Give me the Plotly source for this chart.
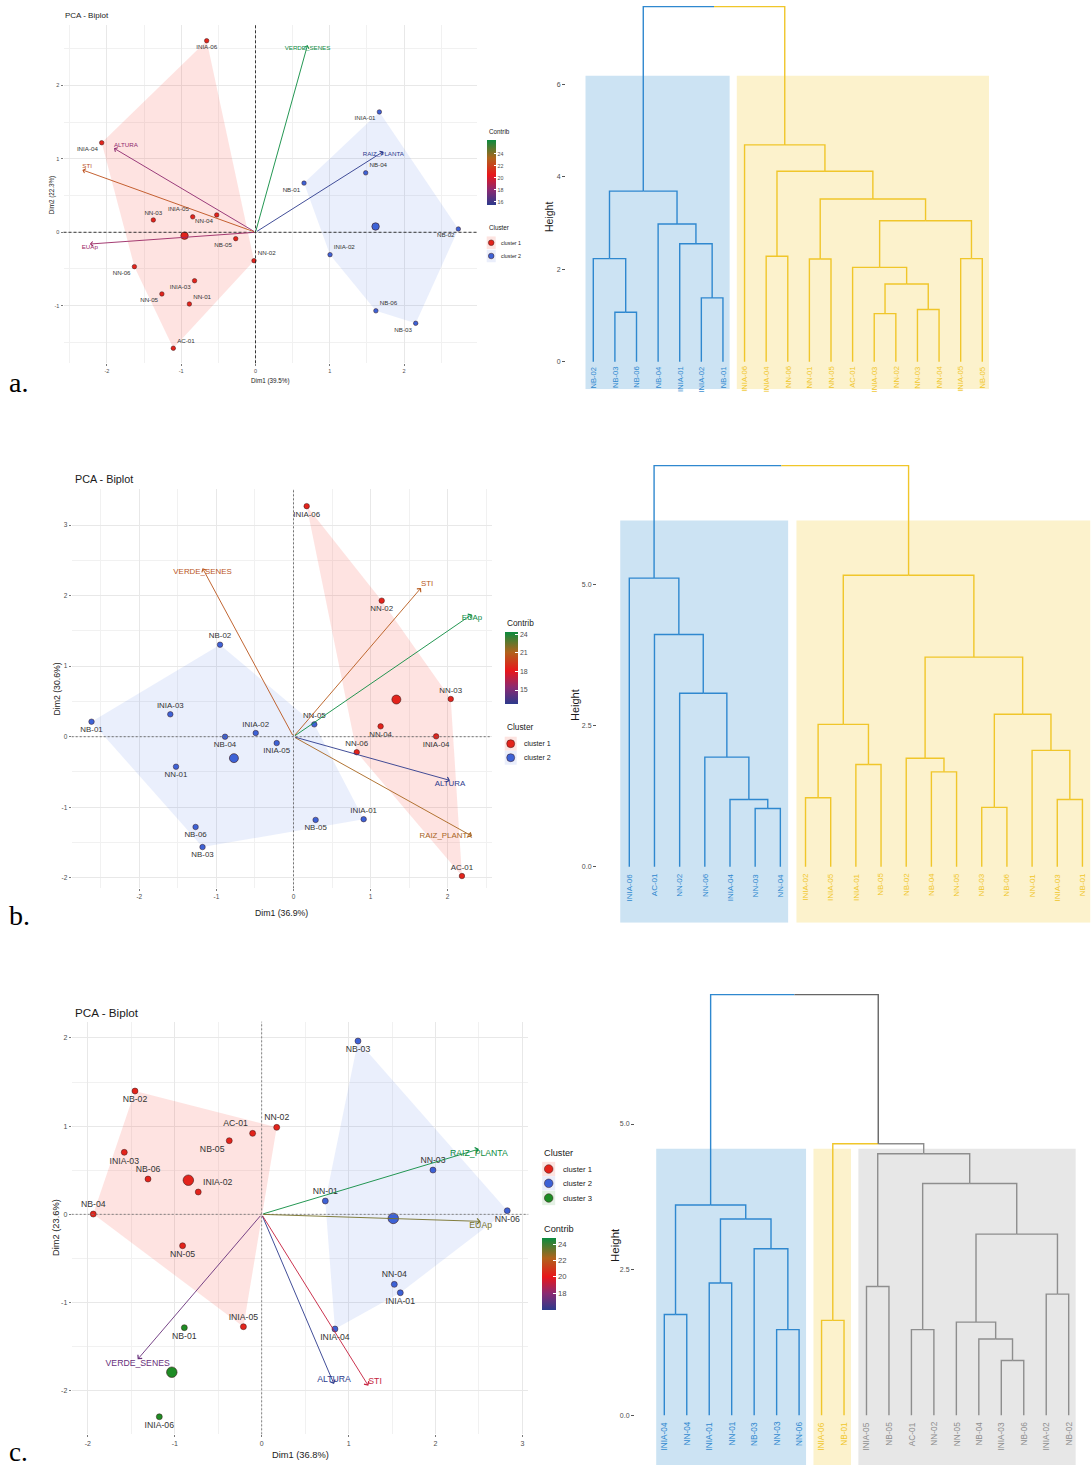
import numpy as np
import plotly.graph_objects as go
from plotly.colors import sample_colorscale

W, H = 1092, 1472
SANS = "Liberation Sans, Arial, sans-serif"
SERIF = "Liberation Serif, Times New Roman, serif"
TICK_GREY = "#4d4d4d"

# ------------------------------------------------------------------ data
# a. PCA individuals (Dim1, Dim2) and k-means cluster
a_ind = ["INIA-06", "INIA-04", "NN-03", "INIA-05", "NN-04", "NB-05", "NN-02",
         "NN-06", "INIA-03", "NN-05", "NN-01", "AC-01",
         "INIA-01", "NB-04", "NB-01", "NB-02", "INIA-02", "NB-06", "NB-03"]
a_dim1 = [-0.657, -2.07, -1.375, -0.845, -0.522, -0.266, -0.02, -1.63, -0.82, -1.26, -0.89, -1.106,
          1.667, 1.483, 0.653, 2.73, 1.003, 1.62, 2.156]
a_dim2 = [2.61, 1.22, 0.168, 0.21, 0.236, -0.087, -0.387, -0.468, -0.66, -0.84, -0.977, -1.58,
          1.64, 0.81, 0.67, 0.045, -0.305, -1.07, -1.24]
a_cluster = [1, 1, 1, 1, 1, 1, 1, 1, 1, 1, 1, 1, 2, 2, 2, 2, 2, 2, 2]
a_var = ["VERDE_SENES", "RAIZ_PLANTA", "ALTURA", "STI", "EUAp"]
a_var_dim1 = [0.70, 1.72, -1.905, -2.33, -2.23]
a_var_dim2 = [2.55, 1.10, 1.145, 0.85, -0.16]
a_contrib = [26.3, 15.5, 18.1, 22.6, 18.4]

# b. PCA
b_ind = ["INIA-06", "NN-02", "NN-03", "NN-04", "INIA-04", "NN-06", "AC-01",
         "NB-01", "INIA-03", "NB-02", "NB-04", "INIA-02", "INIA-05", "NN-01",
         "NB-06", "NB-03", "NN-05", "NB-05", "INIA-01"]
b_dim1 = [0.171, 1.144, 2.04, 1.13, 1.85, 0.82, 2.185,
          -2.62, -1.598, -0.953, -0.888, -0.49, -0.218, -1.524, -1.27, -1.18, 0.27, 0.287, 0.91]
b_dim2 = [3.27, 1.93, 0.535, 0.147, 0.005, -0.22, -1.976,
          0.213, 0.318, 1.305, 0.0, 0.052, -0.09, -0.425, -1.28, -1.565, 0.175, -1.18, -1.17]
b_cluster = [1, 1, 1, 1, 1, 1, 1, 2, 2, 2, 2, 2, 2, 2, 2, 2, 2, 2, 2]
b_var = ["VERDE_SENES", "STI", "EUAp", "ALTURA", "RAIZ_PLANTA"]
b_var_dim1 = [-1.18, 1.654, 2.315, 2.03, 2.315]
b_var_dim2 = [2.39, 2.11, 1.735, -0.62, -1.41]
b_contrib = [20.6, 20.8, 24.4, 12.8, 21.3]

# c. PCA
c_ind = ["NB-02", "INIA-03", "NB-06", "NB-04", "INIA-02", "NB-05", "AC-01", "NN-02", "NN-05", "INIA-05",
         "NB-03", "NN-03", "NN-01", "NN-06", "NN-04", "INIA-01", "INIA-04",
         "NB-01", "INIA-06"]
c_dim1 = [-1.458, -1.581, -1.308, -1.938, -0.73, -0.373, -0.104, 0.173, -0.91, -0.21,
          1.108, 1.971, 0.732, 2.826, 1.526, 1.595, 0.843,
          -0.89, -1.178]
c_dim2 = [1.398, 0.703, 0.40, 0.003, 0.253, 0.835, 0.918, 0.986, -0.356, -1.274,
          1.965, 0.502, 0.151, 0.041, -0.794, -0.889, -1.30,
          -1.285, -2.295]
c_cluster = [1, 1, 1, 1, 1, 1, 1, 1, 1, 1, 2, 2, 2, 2, 2, 2, 2, 3, 3]
c_var = ["VERDE_SENES", "RAIZ_PLANTA", "EUAp", "ALTURA", "STI"]
c_var_dim1 = [-1.427, 2.50, 2.52, 0.832, 1.227]
c_var_dim2 = [-1.644, 0.74, -0.08, -1.924, -1.943]
c_contrib = [17.2, 24.7, 23.1, 15.9, 19.2]

# Hierarchical clustering: leaf order, group of each leaf, merge table
# (negative = leaf position, positive = earlier merge row) and merge heights
a_leaves = ["NB-02", "NB-03", "NB-06", "NB-04", "INIA-01", "INIA-02", "NB-01",
            "INIA-06", "INIA-04", "NN-06", "NN-01", "NN-05", "AC-01", "INIA-03",
            "NN-02", "NN-03", "NN-04", "INIA-05", "NB-05"]
a_groups = [1, 1, 1, 1, 1, 1, 1, 2, 2, 2, 2, 2, 2, 2, 2, 2, 2, 2, 2]
a_merge = [(-14, -15), (-2, -3), (-16, -17), (-6, -7), (1, 3), (-13, 5), (-11, -12), (-1, 2),
           (-18, -19), (-9, -10), (-5, 4), (-4, 11), (6, 9), (7, 13), (8, 12), (10, 14),
           (-8, 16), (15, 17)]
a_height = [1.04, 1.07, 1.13, 1.38, 1.68, 2.04, 2.22, 2.23, 2.23, 2.28, 2.55, 2.98, 3.05,
            3.52, 3.69, 4.12, 4.69, 7.68]

b_leaves = ["INIA-06", "AC-01", "NN-02", "NN-06", "INIA-04", "NN-03", "NN-04",
            "INIA-02", "INIA-05", "INIA-01", "NB-05", "NB-02", "NB-04", "NN-05",
            "NB-03", "NB-06", "NN-01", "INIA-03", "NB-01"]
b_groups = [1, 1, 1, 1, 1, 1, 1, 2, 2, 2, 2, 2, 2, 2, 2, 2, 2, 2, 2]
b_merge = [(-6, -7), (-15, -16), (-5, 1), (-18, -19), (-8, -9), (-13, -14), (-10, -11),
           (-12, 6), (-4, 3), (-17, 4), (5, 7), (2, 10), (-3, 9), (8, 12), (-2, 13),
           (-1, 15), (11, 14), (16, 17)]
b_height = [1.03, 1.05, 1.19, 1.19, 1.22, 1.68, 1.81, 1.92, 1.94, 2.06, 2.52, 2.70, 3.07,
            3.71, 4.11, 5.11, 5.16, 7.10]

c_leaves = ["INIA-04", "NN-04", "INIA-01", "NN-01", "NB-03", "NN-03", "NN-06",
            "INIA-06", "NB-01",
            "INIA-05", "NB-05", "AC-01", "NN-02", "NN-05", "NB-04", "INIA-03",
            "NB-06", "INIA-02", "NB-02"]
c_groups = [1, 1, 1, 1, 1, 1, 1, 2, 2, 3, 3, 3, 3, 3, 3, 3, 3, 3, 3]
c_merge = [(-16, -17), (-15, 1), (-6, -7), (-12, -13), (-14, 2), (-8, -9), (-1, -2),
           (-18, -19), (-10, -11), (-3, -4), (-5, 3), (5, 8), (10, 11), (7, 13), (4, 12),
           (9, 15), (6, 16), (14, 17)]
c_height = [0.94, 1.31, 1.47, 1.47, 1.60, 1.63, 1.73, 2.08, 2.21, 2.27, 2.86, 3.11, 3.37,
            3.61, 3.98, 4.49, 4.66, 7.22]

# ------------------------------------------------------------------ styles
CONTRIB_SCALE = [[0.0, "#2c3a8c"], [0.23, "#8a2a72"], [0.46, "#e8161b"],
                 [0.72, "#b0631c"], [1.0, "#0b8b3f"]]
PT_COL = {1: "#e3231b", 2: "#3d62d6", 3: "#1e8c25"}
HULL_FILL = {1: "rgba(245,60,40,0.14)", 2: "rgba(65,105,225,0.11)", 3: "rgba(34,139,34,0.12)"}
KEY_BG = {1: "#fde4e1", 2: "#eaeefb", 3: "#e4f1e4"}
DEND_LINE = {0: "#666666", 1: "#2f88cf", 2: "#f0c62a", 3: "#8e8e8e"}
DEND_RECT = {1: "#cce3f3", 2: "#fcf2cc", 3: "#e7e7e7"}

a_pos = ["bottom center", "bottom left", "top center", "top left", "bottom left", "bottom left",
         "top right", "bottom left", "bottom left", "bottom left", "top right", "top right",
         "bottom left", "top right", "bottom left", "bottom left", "top right", "top right",
         "bottom left"]
a_var_pos = ["bottom center", "bottom center", "top right", "top right", "bottom center"]
b_pos = ["bottom center", "bottom center", "top center", "bottom center", "bottom center",
         "top center", "top center", "bottom center", "top center", "top center",
         "bottom center", "top center", "bottom center", "bottom center", "bottom center",
         "bottom center", "top center", "bottom center", "top center"]
b_var_pos = ["bottom center", "top right", "bottom center", "bottom center", "middle left"]
c_pos = ["bottom center", "bottom center", "top center", "top center", "top right",
         "bottom left", "top left", "top center", "bottom center", "top center",
         "bottom center", "top center", "top center", "bottom center", "top center",
         "bottom center", "bottom center", "bottom center", "bottom center"]
c_var_pos = ["bottom center", "bottom center", "bottom center", "top center", "top right"]


def px(x, y):
    """Pixel position on the page -> paper coordinates."""
    return x / W, 1 - y / H


def axis_names(k):
    return ("x" if k == 1 else f"x{k}"), ("y" if k == 1 else f"y{k}")


def convex_hull(xs, ys):
    pts = sorted(set(zip(xs, ys)))
    if len(pts) < 3:
        return pts

    def cross(o, a, b):
        return (a[0] - o[0]) * (b[1] - o[1]) - (a[1] - o[1]) * (b[0] - o[0])

    lower, upper = [], []
    for p in pts:
        while len(lower) >= 2 and cross(lower[-2], lower[-1], p) <= 0:
            lower.pop()
        lower.append(p)
    for p in reversed(pts):
        while len(upper) >= 2 and cross(upper[-2], upper[-1], p) <= 0:
            upper.pop()
        upper.append(p)
    return lower[:-1] + upper[:-1]


fig = go.Figure()
annotations = []
shapes = []


def text_ann(x, y, text, size, color="#1a1a1a", xanchor="left", yanchor="middle",
             angle=0, family=SANS):
    xp, yp = px(x, y)
    annotations.append(dict(x=xp, y=yp, xref="paper", yref="paper", text=text,
                            showarrow=False, xanchor=xanchor, yanchor=yanchor,
                            textangle=angle, font=dict(size=size, color=color, family=family)))


def add_biplot(k, ind, d1, d2, cl, pos, var, vd1, vd2, vpos, contrib,
               fs, msize, csize, head, dash_col, dash_pat):
    xa, ya = axis_names(k)
    ind = np.array(ind)
    d1 = np.array(d1)
    d2 = np.array(d2)
    cl = np.array(cl)
    pos = np.array(pos)
    groups = sorted(set(cl.tolist()))

    for g in groups:
        m = cl == g
        hull = convex_hull(d1[m].tolist(), d2[m].tolist())
        if len(hull) >= 3:
            fig.add_trace(go.Scatter(
                x=[q[0] for q in hull] + [hull[0][0]], y=[q[1] for q in hull] + [hull[0][1]],
                xaxis=xa, yaxis=ya, mode="lines", fill="toself", fillcolor=HULL_FILL[g],
                line=dict(width=0), hoverinfo="skip"))

    # dashed reference lines through the origin
    shapes.append(dict(type="line", xref=xa, yref=f"{ya} domain", x0=0, x1=0, y0=0, y1=1,
                       line=dict(color=dash_col, width=0.9, dash=dash_pat), layer="above"))
    shapes.append(dict(type="line", xref=f"{xa} domain", yref=ya, x0=0, x1=1, y0=0, y1=0,
                       line=dict(color=dash_col, width=0.9, dash=dash_pat), layer="above"))

    # variable arrows coloured by contribution
    cmin, cmax = min(contrib), max(contrib)
    cols = sample_colorscale(CONTRIB_SCALE, [(v - cmin) / (cmax - cmin) for v in contrib])
    for vx, vy, col in zip(vd1, vd2, cols):
        annotations.append(dict(x=vx, y=vy, ax=0, ay=0, xref=xa, yref=ya, axref=xa, ayref=ya,
                                text="", showarrow=True, arrowhead=4, arrowsize=head,
                                arrowwidth=0.9, arrowcolor=col, standoff=0))
    fig.add_trace(go.Scatter(x=vd1, y=vd2, xaxis=xa, yaxis=ya, mode="text", text=var,
                             textposition=vpos, hoverinfo="skip",
                             textfont=dict(size=fs, color=cols, family=SANS)))

    # individuals and cluster centres
    for g in groups:
        m = cl == g
        fig.add_trace(go.Scatter(
            x=d1[m], y=d2[m], xaxis=xa, yaxis=ya, mode="markers+text", text=ind[m].tolist(),
            textposition=pos[m].tolist(), hoverinfo="text",
            textfont=dict(size=fs, color="#333333", family=SANS),
            marker=dict(size=msize, color=PT_COL[g], line=dict(color="#3a1a1a", width=0.5))))
        fig.add_trace(go.Scatter(
            x=[d1[m].mean()], y=[d2[m].mean()], xaxis=xa, yaxis=ya, mode="markers",
            hoverinfo="skip",
            marker=dict(size=csize, color=PT_COL[g], line=dict(color="#3a1a1a", width=0.6))))

    # carrier for the contribution colour bar
    fig.add_trace(go.Scatter(
        x=vd1, y=vd2, xaxis=xa, yaxis=ya, mode="markers", hoverinfo="skip",
        marker=dict(size=2, opacity=0, color=contrib,
                    coloraxis="coloraxis" if k == 1 else f"coloraxis{k}")))


def add_dendrogram(k, leaves, groups, merge, height, label_fs, label_shift):
    xa, ya = axis_names(k)
    node = {}

    def child(c):
        if c < 0:
            return float(-c), 0.0, groups[-c - 1]
        return node[c]

    segs = {}
    for i, (l, r) in enumerate(merge, start=1):
        xl, hl, gl = child(l)
        xr, hr, gr = child(r)
        h = height[i - 1]
        xm = (xl + xr) / 2
        segs.setdefault(gl, ([], []))
        segs[gl][0].extend([xl, xl, xm, None])
        segs[gl][1].extend([hl, h, h, None])
        segs.setdefault(gr, ([], []))
        segs[gr][0].extend([xm, xr, xr, None])
        segs[gr][1].extend([h, h, hr, None])
        node[i] = (xm, h, gl if gl == gr else 0)

    for g, (xs, ys) in segs.items():
        fig.add_trace(go.Scatter(x=xs, y=ys, xaxis=xa, yaxis=ya, mode="lines",
                                 line=dict(color=DEND_LINE[g], width=1.4), hoverinfo="skip"))

    # cluster rectangles, cut halfway between the last retained and next merge
    n_groups = len(set(groups))
    hs = sorted(height)
    cut = (hs[-n_groups] + hs[-n_groups + 1]) / 2
    for g in sorted(set(groups)):
        idx = [i + 1 for i, gg in enumerate(groups) if gg == g]
        shapes.append(dict(type="rect", xref=xa, yref=ya, x0=min(idx) - 0.36,
                           x1=max(idx) + 0.31, y0=None, y1=cut, line=dict(width=0),
                           fillcolor=DEND_RECT[g], layer="below"))

    for i, (lab, g) in enumerate(zip(leaves, groups), start=1):
        annotations.append(dict(x=i, y=0, xref=xa, yref=ya, text=lab, showarrow=False,
                                textangle=-90, xanchor="center", yanchor="top",
                                yshift=label_shift,
                                font=dict(size=label_fs, color=DEND_LINE[g], family=SANS)))


# ------------------------------------------------------------------ panels
add_biplot(1, a_ind, a_dim1, a_dim2, a_cluster, a_pos, a_var, a_var_dim1, a_var_dim2,
           a_var_pos, a_contrib, fs=6.2, msize=4.5, csize=7.5, head=1.0,
           dash_col="#222222", dash_pat="3px,2px")
add_biplot(2, b_ind, b_dim1, b_dim2, b_cluster, b_pos, b_var, b_var_dim1, b_var_dim2,
           b_var_pos, b_contrib, fs=7.9, msize=5.5, csize=9, head=1.1,
           dash_col="#666666", dash_pat="2px,2px")
add_biplot(3, c_ind, c_dim1, c_dim2, c_cluster, c_pos, c_var, c_var_dim1, c_var_dim2,
           c_var_pos, c_contrib, fs=8.7, msize=6, csize=10.5, head=1.2,
           dash_col="#777777", dash_pat="2px,2px")

add_dendrogram(4, a_leaves, a_groups, a_merge, a_height, label_fs=7.6, label_shift=-2.5)
add_dendrogram(5, b_leaves, b_groups, b_merge, b_height, label_fs=8, label_shift=-4.5)
add_dendrogram(6, c_leaves, c_groups, c_merge, c_height, label_fs=8.3, label_shift=-4.5)

# ------------------------------------------------------------------ axes
layout = dict(width=W, height=H, margin=dict(l=0, r=0, t=0, b=0),
              paper_bgcolor="white", plot_bgcolor="white", showlegend=False)


def dom_x(x0, x1):
    return [x0 / W, x1 / W]


def dom_y(top, bottom):
    return [1 - bottom / H, 1 - top / H]


def bi_axes(k, xdom, ydom, xr, yr, xt, yt, fs):
    xa, ya = axis_names(k)
    xkey = "xaxis" if k == 1 else f"xaxis{k}"
    ykey = "yaxis" if k == 1 else f"yaxis{k}"
    common = dict(showgrid=True, gridcolor="#e8e8e8", gridwidth=0.8, zeroline=False,
                  showline=False, ticks="outside", ticklen=2, tickwidth=0.7,
                  tickcolor="#7a7a7a", tickfont=dict(size=fs, color=TICK_GREY, family=SANS))
    xminor = np.arange(np.ceil(xr[0] * 2) / 2, xr[1], 0.5)
    yminor = np.arange(np.ceil(yr[0] * 2) / 2, yr[1], 0.5)
    layout[xkey] = dict(domain=xdom, range=xr, anchor=ya, tickmode="array", tickvals=xt,
                        ticktext=[str(v) for v in xt],
                        minor=dict(tickmode="array", tickvals=xminor.tolist(), showgrid=True,
                                   gridcolor="#f1f1f1", gridwidth=0.5), **common)
    layout[ykey] = dict(domain=ydom, range=yr, anchor=xa, tickmode="array", tickvals=yt,
                        ticktext=[str(v) for v in yt],
                        minor=dict(tickmode="array", tickvals=yminor.tolist(), showgrid=True,
                                   gridcolor="#f1f1f1", gridwidth=0.5), **common)


bi_axes(1, dom_x(63.5, 476.7), dom_y(25, 363.3), [-2.584, 2.977], [-1.785, 2.824],
        [-2, -1, 0, 1, 2], [-1, 0, 1, 2], 5.5)
bi_axes(2, dom_x(71.7, 491.7), dom_y(489.3, 888.3), [-2.877, 2.571], [-2.150, 3.509],
        [-2, -1, 0, 1, 2], [-2, -1, 0, 1, 2, 3], 6.5)
bi_axes(3, dom_x(71.7, 528.3), dom_y(1021.7, 1434.3), [-2.186, 3.068], [-2.494, 2.184],
        [-2, -1, 0, 1, 2, 3], [-2, -1, 0, 1, 2], 7)


def dend_axes(k, xdom, ydom, xr, yr, yt, ytext):
    xa, ya = axis_names(k)
    layout[f"xaxis{k}"] = dict(domain=xdom, range=xr, anchor=ya, visible=False)
    layout[f"yaxis{k}"] = dict(domain=ydom, range=yr, anchor=xa, showgrid=False,
                               zeroline=False, showline=False, ticks="outside", ticklen=3,
                               tickwidth=0.7, tickcolor="#555555", tickmode="array",
                               tickvals=yt, ticktext=ytext,
                               tickfont=dict(size=7, color=TICK_GREY, family=SANS))


dend_axes(4, dom_x(566, 992), dom_y(3, 389.3), [-0.263, 19.45], [-0.597, 7.759],
          [0, 2, 4, 6], ["0", "2", "4", "6"])
dend_axes(5, dom_x(597, 1091), dom_y(462, 922.7), [-0.283, 19.34], [-0.991, 7.165],
          [0, 2.5, 5], ["0.0", "2.5", "5.0"])
dend_axes(6, dom_x(635, 1077), dom_y(990, 1465), [-0.304, 19.37], [-0.853, 7.30],
          [0, 2.5, 5], ["0.0", "2.5", "5.0"])

# rectangles run from the bottom of each dendrogram panel up to the cut height
for s in shapes:
    if s.get("type") == "rect" and s.get("y0", 0) is None:
        k = int(s["yref"][1:])
        s["y0"] = layout[f"yaxis{k}"]["range"][0]


# ------------------------------------------------------------------ colour bars
def colorbar_axis(contrib, tickvals, x, top, length, thick, fs, ticklen):
    return dict(colorscale=CONTRIB_SCALE, cmin=min(contrib), cmax=max(contrib),
                colorbar=dict(x=x / W, xanchor="left", y=1 - top / H, yanchor="top",
                              len=length, lenmode="pixels", thickness=thick,
                              thicknessmode="pixels", xpad=0, ypad=0, outlinewidth=0,
                              ticks="inside", ticklen=ticklen, tickcolor="white", tickwidth=1,
                              tickmode="array", tickvals=tickvals,
                              ticktext=[str(v) for v in tickvals],
                              tickfont=dict(size=fs, color=TICK_GREY, family=SANS),
                              title=dict(text="")))


layout["coloraxis"] = colorbar_axis(a_contrib, [16, 18, 20, 22, 24], 486.7, 140, 65, 9.3, 5.3, 2)
layout["coloraxis2"] = colorbar_axis(b_contrib, [15, 18, 21, 24], 505, 631.7, 71.6, 12.7, 7, 3)
layout["coloraxis3"] = colorbar_axis(c_contrib, [18, 20, 22, 24], 542.3, 1238.3, 72.4, 13.7, 7.7, 3)


# ------------------------------------------------------------------ cluster keys
def cluster_key(x_c, title_y, ys, groups, kw, kh, r, fs_title, fs_item, text_x):
    text_ann(x_c - kw / 2, title_y, "Cluster", fs_title)
    for y, g in zip(ys, groups):
        x0, y0 = px(x_c - kw / 2, y + kh / 2)
        x1, y1 = px(x_c + kw / 2, y - kh / 2)
        shapes.append(dict(type="rect", xref="paper", yref="paper", x0=x0, x1=x1, y0=y0, y1=y1,
                           fillcolor=KEY_BG[g], line=dict(width=0)))
        x0, y0 = px(x_c - r, y + r)
        x1, y1 = px(x_c + r, y - r)
        shapes.append(dict(type="circle", xref="paper", yref="paper", x0=x0, x1=x1, y0=y0, y1=y1,
                           fillcolor=PT_COL[g], line=dict(color="#3a1a1a", width=0.5)))
        text_ann(text_x, y, f"cluster {g}", fs_item, color="#1a1a1a")


cluster_key(491.2, 228, [242.7, 256], [1, 2], 9, 12.5, 2.8, 6.3, 5.3, 499.3)
cluster_key(510.7, 727, [743.7, 757.7], [1, 2], 12, 14, 4, 8.3, 7.1, 522)
cluster_key(548.7, 1152.7, [1169, 1183.3, 1198], [1, 2, 3], 13, 14.3, 4.3, 9.2, 7.7, 561)

text_ann(486.7, 131.7, "Contrib", 6.3)
text_ann(505, 623, "Contrib", 8.3)
text_ann(542.3, 1229.3, "Contrib", 9.2)

# ------------------------------------------------------------------ titles and labels
text_ann(63.3, 15.7, "PCA - Biplot", 8)
text_ann(72.7, 479, "PCA - Biplot", 10.8)
text_ann(72.7, 1012.3, "PCA - Biplot", 11.7)

text_ann(270, 381, "Dim1 (39.5%)", 6.3, xanchor="center")
text_ann(52.3, 195, "Dim2 (22.3%)", 6.3, xanchor="center", angle=-90)
text_ann(281.7, 913, "Dim1 (36.9%)", 8.7, xanchor="center")
text_ann(56.7, 688.8, "Dim2 (30.6%)", 8.7, xanchor="center", angle=-90)
text_ann(300, 1455, "Dim1 (36.8%)", 9.3, xanchor="center")
text_ann(56, 1228, "Dim2 (23.6%)", 9.3, xanchor="center", angle=-90)

text_ann(548.3, 216.7, "Height", 10.5, xanchor="center", angle=-90)
text_ann(575, 705, "Height", 11, xanchor="center", angle=-90)
text_ann(615, 1245, "Height", 11.5, xanchor="center", angle=-90)

text_ann(7, 382, "a.", 28, color="black", family=SERIF)
text_ann(7, 915, "b.", 28, color="black", family=SERIF)
text_ann(7, 1452, "c.", 27, color="black", family=SERIF)

layout["annotations"] = annotations
layout["shapes"] = shapes
fig.update_layout(**layout)
fig.write_html("out.html")
